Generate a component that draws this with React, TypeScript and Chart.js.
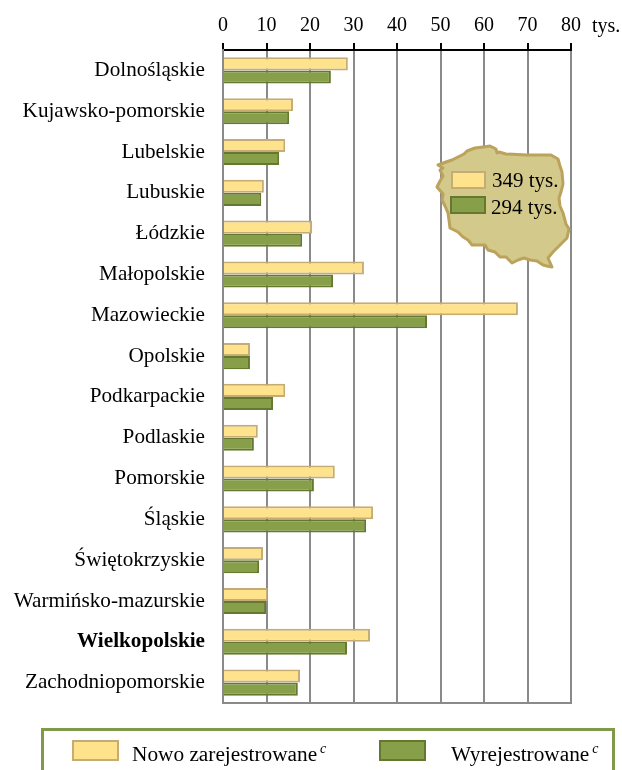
import React, { useEffect, useRef } from "react";
import { Chart, registerables } from "chart.js";

Chart.register(...registerables);

const categories = ["Dolnośląskie","Kujawsko-pomorskie","Lubelskie","Lubuskie","Łódzkie","Małopolskie","Mazowieckie","Opolskie","Podkarpackie","Podlaskie","Pomorskie","Śląskie","Świętokrzyskie","Warmińsko-mazurskie","Wielkopolskie","Zachodniopomorskie"];
const registered = [28.7,16.1,14.3,9.4,20.5,32.4,67.8,6.2,14.3,8.0,25.7,34.5,9.2,10.3,33.8,17.7];
const deregistered = [24.8,15.2,12.9,8.8,18.2,25.3,46.9,6.2,11.5,7.1,20.9,32.9,8.3,9.9,28.5,17.2];
const seriesNames = ["Nowo zarejestrowane", "Wyrejestrowane"];
const mapTotals = ["349 tys.", "294 tys."];
const boldCategory = "Wielkopolskie";
const FONT = "'Liberation Serif'";
const YELLOW = "#ffe28c", YELLOW_EDGE = "#c4ac74", GREEN = "#869f48", GREEN_EDGE = "#64792f", GRID = "#8a8a8a";

// Decorative outline of Poland behind the inset legend
const mapOutline = "M438,165 L446,162 L452,160 L458,157 L464,154 L467,151 L475,148 L483,147 L490,146 L496,149 L497,153 L499,152 L506,154 L527,155 L540,155 L551,155 L558,159 L560,166 L562,172 L563,184 L561,192 L559,198 L560,206 L563,213 L566,224 L569,229 L567,238 L562,243 L557,248 L553,252 L548,258 L552,267 L547,266 L543,265 L537,261 L530,260 L524,258 L518,260 L512,263 L506,257 L500,257 L495,252 L488,250 L485,245 L478,245 L472,245 L468,240 L463,237 L458,232 L450,228 L449,220 L448,213 L445,206 L442,200 L443,194 L437,187 L440,181 L443,176 L440,170 L443,168 Z";

const frame = {
  id: "frame",
  afterDatasetsDraw(chart: any) {
    const { ctx, chartArea: a } = chart;
    ctx.save();
    ctx.strokeStyle = GRID;
    ctx.lineWidth = 2;
    ctx.beginPath();
    ctx.moveTo(a.left - 1, a.bottom);
    ctx.lineTo(a.right + 1, a.bottom);
    ctx.stroke();
    ctx.restore();
  },
};

export default function App() {
  const ref = useRef<HTMLCanvasElement>(null);
  useEffect(() => {
    document.body.style.margin = "0";
    const chart = new Chart(ref.current!, {
      type: "bar",
      plugins: [frame],
      data: {
        labels: categories,
        datasets: [
          { label: seriesNames[0], data: registered, backgroundColor: YELLOW, borderColor: YELLOW_EDGE, borderWidth: 2 },
          { label: seriesNames[1], data: deregistered, backgroundColor: GREEN, borderColor: GREEN_EDGE, borderWidth: 2 },
        ],
      },
      options: {
        indexAxis: "y",
        responsive: false,
        animation: false,
        layout: { padding: { left: 0, right: 51, top: 0, bottom: 67 } },
        plugins: { legend: { display: false }, tooltip: { enabled: false } },
        datasets: { bar: { categoryPercentage: 0.64, barPercentage: 1 } },
        scales: {
          x: {
            position: "top",
            min: 0,
            max: 80,
            afterFit: (s: any) => { s.height = 50; },
            ticks: { stepSize: 10, color: "#000", maxRotation: 0, padding: 5, font: { family: FONT, size: 20 } },
            grid: { color: GRID, lineWidth: 2, tickColor: "#000", tickLength: 7, tickWidth: 2 },
            border: { color: "#000", width: 2 },
          },
          y: {
            afterFit: (s: any) => { s.width = 223; },
            ticks: {
              color: "#000",
              padding: 10,
              autoSkip: false,
              font: (c: any) => ({ family: FONT, size: 21.2, weight: categories[c.index] === boldCategory ? "bold" : "normal" }),
            },
            grid: { display: false },
            border: { color: GRID, width: 2 },
          },
        },
      } as any,
    });
    return () => chart.destroy();
  }, []);

  const text = { position: "absolute", fontFamily: FONT, color: "#000", whiteSpace: "nowrap", lineHeight: "20px" } as React.CSSProperties;
  const swatch = (x: number, y: number, w: number, h: number, fill: string, edge: string) => (
    <div style={{ position: "absolute", left: x, top: y, width: w, height: h, boxSizing: "border-box", background: fill, border: `2px solid ${edge}` }} />
  );
  const sup = <sup style={{ fontStyle: "italic", fontSize: 14, lineHeight: 0, marginLeft: 3 }}>c</sup>;
  return (
    <div style={{ position: "relative", width: 622, height: 770, overflow: "hidden" }}>
      <canvas ref={ref} width={622} height={770} style={{ position: "absolute", left: 0, top: 0 }} />
      <div style={{ ...text, left: 592, top: 15, fontSize: 20 }}>tys.</div>
      <svg width={622} height={770} style={{ position: "absolute", left: 0, top: 0 }}>
        <path d={mapOutline} fill="#d3c98a" stroke="#bba35c" strokeWidth={3} strokeLinejoin="round" />
      </svg>
      {swatch(451, 171, 35, 18, YELLOW, YELLOW_EDGE)}
      {swatch(450, 196, 36, 18, GREEN, GREEN_EDGE)}
      <div style={{ ...text, left: 492, top: 170, fontSize: 21 }}>{mapTotals[0]}</div>
      <div style={{ ...text, left: 491, top: 197, fontSize: 21 }}>{mapTotals[1]}</div>
      <div style={{ position: "absolute", left: 41, top: 728, width: 574, height: 60, boxSizing: "border-box", border: "3px solid #7f9a48" }} />
      {swatch(72, 740, 47, 21, YELLOW, YELLOW_EDGE)}
      {swatch(379, 740, 47, 21, GREEN, GREEN_EDGE)}
      <div style={{ ...text, left: 132, top: 744, fontSize: 21.3 }}>{seriesNames[0]}{sup}</div>
      <div style={{ ...text, left: 451, top: 744, fontSize: 21.3 }}>{seriesNames[1]}{sup}</div>
    </div>
  );
}
